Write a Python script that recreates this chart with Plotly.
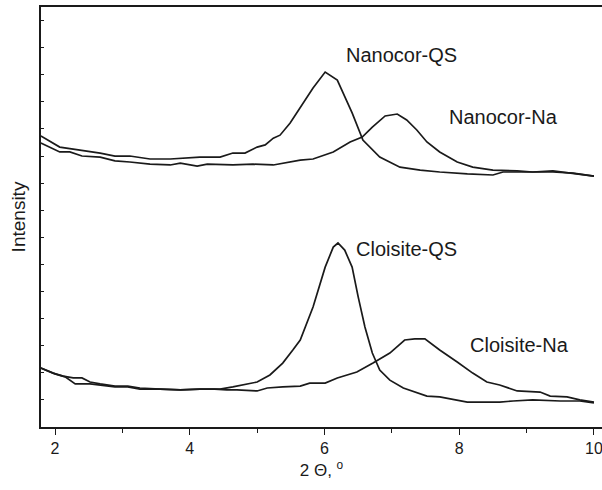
import plotly.graph_objects as go

# ---- data (2-theta in degrees, intensity in arbitrary units) ----
nqs_x = [1.79, 2.07, 2.37, 2.67, 2.89, 3.11, 3.41, 3.71, 4.15, 4.45, 4.64, 4.82, 5.00, 5.12, 5.24, 5.34,
         5.49, 5.64, 5.83, 6.01, 6.19, 6.41, 6.57, 6.82, 7.12, 7.42, 7.71, 8.12, 8.50, 8.65, 9.09, 9.39, 9.69, 10.00]
nqs_y = [10.74, 10.33, 10.22, 10.11, 10.00, 10.00, 9.89, 9.89, 9.96, 9.96, 10.11, 10.11, 10.33, 10.41, 10.66, 10.77,
         11.22, 11.81, 12.51, 13.10, 12.80, 11.59, 10.59, 9.96, 9.59, 9.48, 9.41, 9.34, 9.30, 9.41, 9.41, 9.41, 9.37, 9.26]

nna_x = [1.79, 2.07, 2.22, 2.40, 2.67, 2.89, 3.11, 3.41, 3.71, 3.86, 4.11, 4.26, 4.64, 4.94, 5.24, 5.38, 5.64,
         5.83, 6.13, 6.38, 6.56, 6.71, 6.90, 7.08, 7.22, 7.37, 7.52, 7.71, 7.97, 8.20, 8.50, 8.86, 9.09, 9.39, 9.69, 10.00]
nna_y = [10.48, 10.15, 10.15, 10.00, 9.96, 9.82, 9.78, 9.70, 9.67, 9.74, 9.63, 9.70, 9.67, 9.70, 9.67, 9.74, 9.85,
         9.89, 10.15, 10.52, 10.70, 11.07, 11.48, 11.55, 11.33, 10.96, 10.52, 10.15, 9.78, 9.59, 9.48, 9.45, 9.41, 9.45, 9.37, 9.26]

cqs_x = [1.79, 2.00, 2.15, 2.30, 2.52, 2.74, 2.89, 3.08, 3.26, 3.56, 3.86, 4.15, 4.45, 4.64, 4.85, 5.00, 5.19,
         5.38, 5.53, 5.64, 5.83, 6.01, 6.13, 6.20, 6.30, 6.41, 6.50, 6.60, 6.71, 6.82, 6.97, 7.17, 7.52, 7.71,
         8.12, 8.60, 8.80, 9.09, 9.50, 9.79, 10.00]
cqs_y = [2.18, 1.96, 1.85, 1.59, 1.59, 1.51, 1.48, 1.48, 1.40, 1.40, 1.37, 1.40, 1.40, 1.48, 1.59, 1.66, 1.92,
         2.36, 2.84, 3.21, 4.43, 5.90, 6.64, 6.79, 6.53, 5.90, 4.80, 3.69, 2.73, 2.10, 1.73, 1.44, 1.14, 1.11,
         0.92, 0.92, 0.96, 1.00, 0.96, 0.96, 0.89]

cna_x = [1.79, 1.97, 2.12, 2.27, 2.40, 2.52, 2.67, 2.89, 3.08, 3.26, 3.56, 3.86, 4.15, 4.37, 4.55, 4.70, 5.00,
         5.15, 5.38, 5.64, 5.78, 6.01, 6.19, 6.48, 6.72, 6.97, 7.19, 7.34, 7.49, 7.71, 7.97, 8.20, 8.41, 8.60,
         8.86, 9.09, 9.20, 9.35, 9.60, 9.79, 10.00]
cna_y = [2.18, 1.99, 1.88, 1.81, 1.81, 1.66, 1.59, 1.51, 1.51, 1.44, 1.40, 1.37, 1.40, 1.40, 1.37, 1.37, 1.33,
         1.44, 1.48, 1.51, 1.62, 1.62, 1.81, 2.03, 2.36, 2.73, 3.21, 3.25, 3.25, 2.84, 2.40, 1.99, 1.66, 1.55,
         1.33, 1.29, 1.29, 1.14, 1.11, 1.00, 0.92]

labels = ["Nanocor-QS", "Nanocor-Na", "Cloisite-QS", "Cloisite-Na"]
label_x = [7.15, 8.66, 7.21, 8.89]
label_y = [13.73, 11.44, 6.57, 3.03]

x_ticks = [2, 4, 6, 8, 10]

FONT = "Arial, 'Liberation Sans', Helvetica, sans-serif"
INK = "#1a1a1a"

fig = go.Figure()
for xs, ys, name in [(nqs_x, nqs_y, labels[0]), (nna_x, nna_y, labels[1]),
                     (cqs_x, cqs_y, labels[2]), (cna_x, cna_y, labels[3])]:
    fig.add_trace(go.Scatter(x=xs, y=ys, mode="lines", name=name,
                             line=dict(color=INK, width=1.7), showlegend=False))

for t, x, y in zip(labels, label_x, label_y):
    fig.add_annotation(x=x, y=y, text=t, showarrow=False,
                       font=dict(family=FONT, size=20, color=INK), xanchor="center", yanchor="middle")

fig.update_layout(
    width=602, height=490,
    margin=dict(l=41, r=0, t=7, b=63),
    paper_bgcolor="white", plot_bgcolor="white",
    font=dict(family=FONT, color=INK),
)
fig.update_xaxes(
    range=[1.792, 10.119], showgrid=False, zeroline=False,
    showline=True, linecolor=INK, linewidth=1.5, mirror=True,
    tickmode="array", tickvals=x_ticks, ticktext=[str(v) for v in x_ticks],
    ticklabeloverflow="allow",
    ticks="outside", ticklen=6, tickwidth=1.2, tickcolor=INK,
    tickfont=dict(family=FONT, size=16, color=INK),
    minor=dict(tickvals=[3, 5, 7, 9], ticks="outside", ticklen=4, tickwidth=1.2, tickcolor=INK),
    title=dict(text="2 \u0398, <sup>o</sup>", font=dict(family=FONT, size=17, color=INK), standoff=8),
)
fig.update_yaxes(
    range=[0, 15.5], showgrid=False, zeroline=False,
    showline=True, linecolor=INK, linewidth=1.5, mirror=False,
    tickmode="linear", tick0=0, dtick=1, showticklabels=False,
    ticks="inside", ticklen=3, tickwidth=1.2, tickcolor=INK,
    title=dict(text="Intensity", font=dict(family=FONT, size=19, color=INK), standoff=9),
)

fig.write_html("out.html")
